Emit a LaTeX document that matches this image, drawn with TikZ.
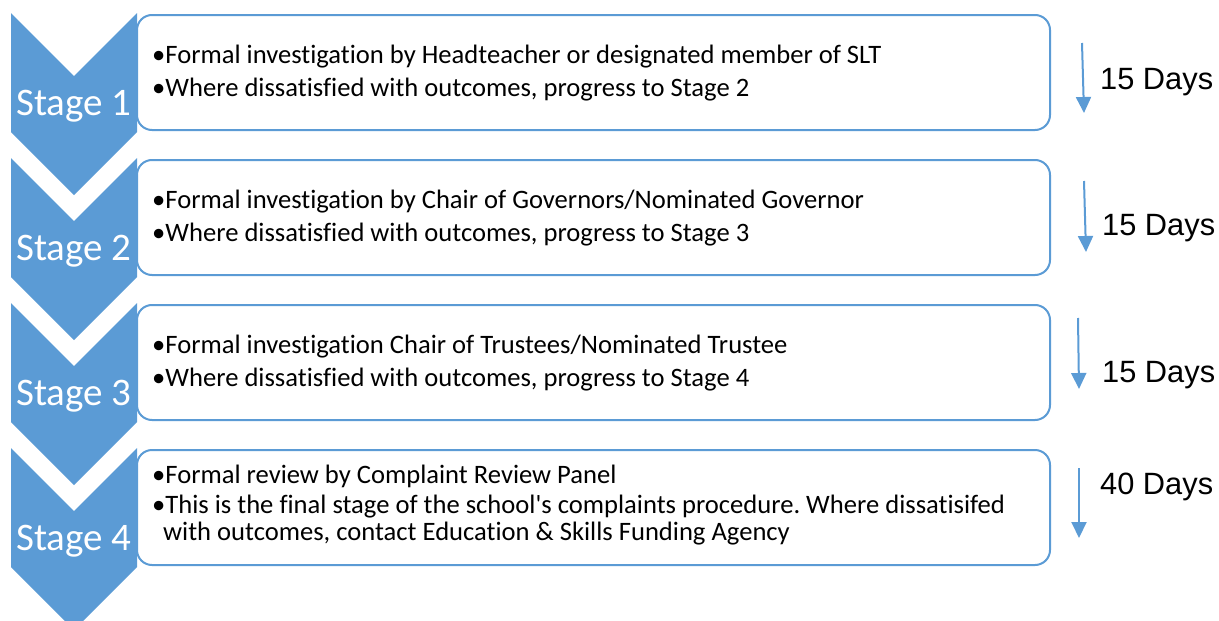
\documentclass[tikz,border=0pt]{standalone}
\usepackage{fontspec}
\setmainfont{Carlito}[Ligatures={NoCommon}]
\newfontfamily\daysfont{Liberation Sans}
\usetikzlibrary{arrows.meta}
\definecolor{stageblue}{RGB}{91,155,213}
\frenchspacing

\tikzset{
  stagebox/.style={draw=stageblue, line width=2pt, fill=white, rounded corners=15pt,
    minimum width=913pt, minimum height=115pt, inner sep=0pt},
  stagelabel/.style={text=white, anchor=base, inner sep=0pt, font=\fontsize{39}{44}\selectfont},
  boxtext/.style={anchor=base west, inner sep=0pt, font=\fontsize{26.6}{30}\selectfont},
  daystext/.style={anchor=base west, inner sep=0pt, font=\daysfont\fontsize{30.8}{36}\selectfont},
  timearrow/.style={draw=stageblue, line width=2pt, -{Triangle[length=16pt,width=15pt]}}
}

\begin{document}
\begin{tikzpicture}[x=1pt,y=-1pt]

\def \pitch {145}
\def \depth {63}

\useasboundingbox (0,0) rectangle (1219,621);
\clip (0,0) rectangle (1219,621);

\foreach \s in {1,...,4}
{
  \pgfmathsetmacro{\ytop}{13+\pitch*(\s-1)}
  \fill[stageblue] (11,\ytop) -- (74,\ytop+\depth) -- (137,\ytop)
    -- (137,\ytop+119) -- (74,\ytop+119+\depth) -- (11,\ytop+119) -- cycle;
  \node[stagebox] (box\s) at (593.5,\ytop+59.5) {};
  \node[stagelabel] (stage\s) at (74,\ytop+102) {Stage \s};
}

% bullet texts
\node[boxtext] (t1a) at (152,63) {•Formal investigation by Headteacher or designated member of SLT};
\node[boxtext] (t1b) at (152,96) {•Where dissatisfied with outcomes, progress to Stage 2};
\node[boxtext] (t2a) at (152,208) {•Formal investigation by Chair of Governors/Nominated Governor};
\node[boxtext] (t2b) at (152,241) {•Where dissatisfied with outcomes, progress to Stage 3};
\node[boxtext] (t3a) at (152,353) {•Formal investigation Chair of Trustees/Nominated Trustee};
\node[boxtext] (t3b) at (152,386) {•Where dissatisfied with outcomes, progress to Stage 4};
\node[boxtext] (t4a) at (152,483) {•Formal review by Complaint Review Panel};
\node[boxtext] (t4b) at (152,513) {•This is the final stage of the school\textquotesingle s complaints procedure. Where dissatisifed};
\node[boxtext] (t4c) at (163,540) {with outcomes, contact Education \& Skills Funding Agency};

% time limits
\coordinate (a1s) at (1082,43);  \coordinate (a1e) at (1084,113);
\coordinate (a2s) at (1084,181); \coordinate (a2e) at (1086,252);
\coordinate (a3s) at (1078,318); \coordinate (a3e) at (1079,389);
\coordinate (a4s) at (1079,468); \coordinate (a4e) at (1079,538);
\foreach \s in {1,...,4}
  \draw[timearrow] (a\s s) -- (a\s e);

\node[daystext] (days1) at (1100,89) {15 Days};
\node[daystext] (days2) at (1102,235) {15 Days};
\node[daystext] (days3) at (1102,382) {15 Days};
\node[daystext] (days4) at (1100,494) {40 Days};

\end{tikzpicture}
\end{document}
